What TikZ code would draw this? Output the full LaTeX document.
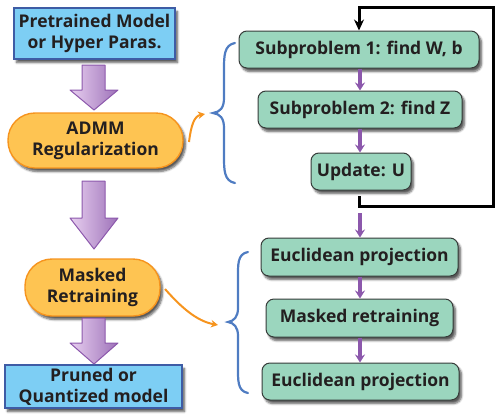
\documentclass[tikz,border=0pt]{standalone}
\usepackage{fontspec}
\setmainfont{Open Sans}
\usetikzlibrary{shadows.blur,arrows.meta}
\newcommand\nodefnt{\fontsize{17.5}{21}\selectfont\bfseries}
\definecolor{boxblue}{RGB}{125,206,244}
\definecolor{boxblueb}{RGB}{62,92,165}
\definecolor{pillor}{RGB}{254,196,82}
\definecolor{pillorb}{RGB}{246,148,30}
\definecolor{grn}{RGB}{155,214,190}
\definecolor{grnb}{RGB}{55,60,58}
\definecolor{purp}{RGB}{140,88,172}
\definecolor{lpurp}{RGB}{232,208,240}
\definecolor{brblue}{RGB}{79,124,194}
\definecolor{txt}{RGB}{35,31,32}
\tikzset{
  x=1pt,y=-1pt,
  lbl/.style={font=\nodefnt, text=txt, align=center, inner sep=0pt},
  shad/.style={blur shadow={shadow xshift=2.5pt, shadow yshift=-3.5pt, shadow blur steps=6, shadow opacity=65}},
  bluebox/.style={lbl, draw=boxblueb, line width=1.6pt, fill=boxblue, shad},
  pill/.style={lbl, draw=pillorb, line width=1.4pt, fill=pillor, rounded corners=27pt, shad},
  gbox/.style={lbl, draw=grnb, line width=1pt, fill=grn, rounded corners=8pt, shad},
  parrow/.style={draw=purp, line width=3.2pt, -{Stealth[length=8pt,width=10pt]}},
  oarrow/.style={draw=pillorb, line width=2pt, -{Stealth[length=7pt,width=7.5pt]}},
  brace/.style={draw=brblue, line width=2.2pt, line cap=round},
  bigarrow/.style={draw=purp, line width=1pt, left color=lpurp, right color=purp!85, line join=round},
}
\begin{document}
\begin{tikzpicture}
\useasboundingbox (0,0) rectangle (499,416);
% left column
\node[bluebox, minimum width=161pt, minimum height=51pt] (pre) at (94.5,33.5) {Pretrained Model\\or Hyper Paras.};
\node[pill, minimum width=175pt, minimum height=55pt] (admm) at (95.5,140.5) {ADMM\\Regularization};
\node[pill, minimum width=135pt, minimum height=57pt] (mask) at (92.5,287.5) {Masked\\Retraining};
\node[bluebox, minimum width=177pt, minimum height=43pt] (out) at (93.5,386.5) {Pruned or\\Quantized model};
% big arrows
\path[bigarrow] (82,65) -- (105,65) -- (105,90) -- (118,90) -- (94,110) -- (70,90) -- (82,90) -- cycle;
\path[bigarrow] (82,181) -- (105,181) -- (105,218) -- (118,218) -- (94,249) -- (70,218) -- (82,218) -- cycle;
\path[bigarrow] (82,318) -- (105,318) -- (105,343) -- (118,343) -- (94,364) -- (70,343) -- (82,343) -- cycle;
% right column
\node[gbox, minimum width=240pt, minimum height=37pt] (s1) at (359,49.5) {Subproblem 1: find W, b};
\node[gbox, minimum width=204pt, minimum height=37pt] (s2) at (360,109.5) {Subproblem 2: find Z};
\node[gbox, minimum width=100pt, minimum height=37pt] (up) at (361,171.5) {Update: U};
\node[gbox, minimum width=197pt, minimum height=38pt] (e1) at (359.5,257) {Euclidean projection};
\node[gbox, minimum width=187pt, minimum height=38pt] (mr) at (359.5,318) {Masked retraining};
\node[gbox, minimum width=197pt, minimum height=37pt] (e2) at (360.5,381.5) {Euclidean projection};
% purple arrows
\draw[parrow] (s1.south -| 360,0) -- (s2.north -| 360,0);
\draw[parrow] (s2.south -| 360,0) -- (up.north -| 360,0);
\coordinate (ps) at (360,213);
\draw[parrow] (ps) -- (e1.north -| 360,0);
\draw[parrow] (e1.south -| 360,0) -- (mr.north -| 360,0);
\draw[parrow] (mr.south -| 360,0) -- (e2.north -| 360,0);
% loop
\coordinate (ls) at (359,196);
\coordinate (lb) at (493,206);
\coordinate (lt) at (493,7);
\draw[line width=3pt, black, -{Stealth[length=11pt,width=10pt]}] (ls) |- (lb) -- (lt) -| (s1.north -| 359,0);
% orange arrows
\coordinate (o1s) at (189,142);
\coordinate (o1e) at (205,114);
\draw[oarrow] (o1s) .. controls (191,126) and (194,116) .. (o1e);
\coordinate (o2s) at (165,289);
\coordinate (o2e) at (218,325);
\draw[oarrow] (o2s) .. controls (180,306) and (196,321) .. (o2e);
% braces
\draw[brace] (235,43) .. controls (224,45) and (224,56) .. (224,70) -- (224,98) .. controls (224,108) and (220,112) .. (213,113) .. controls (220,114) and (224,118) .. (224,128) -- (224,156) .. controls (224,170) and (224,181) .. (235,183);
\draw[brace] (248,252) .. controls (237,254) and (238,265) .. (238,280) -- (238,308) .. controls (238,317) and (234,321) .. (228,322) .. controls (234,323) and (238,327) .. (238,336) -- (238,364) .. controls (238,380) and (237,391) .. (248,393);
\end{tikzpicture}
\end{document}
